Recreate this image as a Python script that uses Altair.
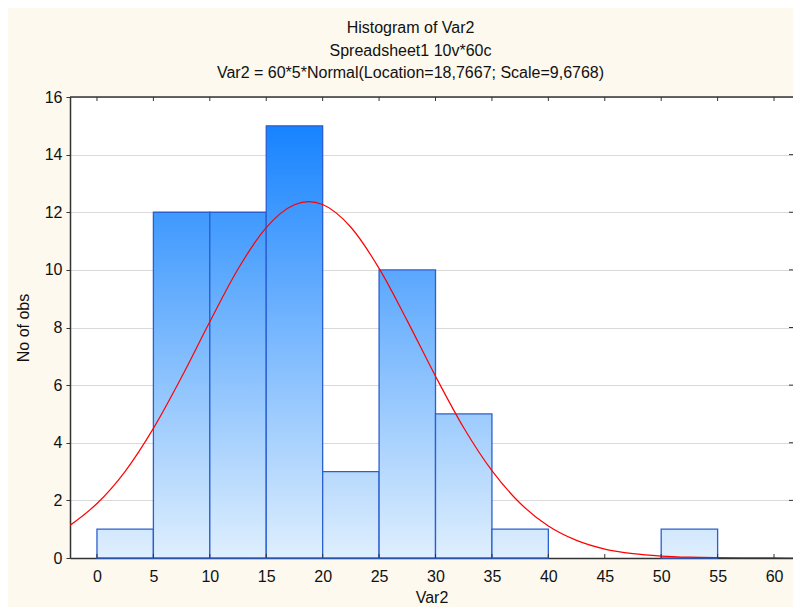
import altair as alt
import pandas as pd

# ---- data ----
bin_start = [0, 5, 10, 15, 20, 25, 30, 35, 40, 45, 50, 55]
bin_width = 5
counts = [1, 12, 12, 15, 3, 10, 5, 1, 0, 0, 1, 0]

curve_x = [-2.4, 0, 2.5, 5, 7.5, 10, 12.5, 15, 17.5, 18.77, 20, 22.5, 25, 27.5,
           30, 32.5, 35, 37.5, 40, 42.5, 45, 47.5, 50, 52.5, 55, 57.5, 60, 62.4]
curve_y = [1.13, 1.89, 3.01, 4.50, 6.28, 8.20, 10.03, 11.47, 12.26, 12.37, 12.27,
           11.48, 10.05, 8.23, 6.31, 4.52, 3.03, 1.90, 1.11, 0.61, 0.31, 0.15,
           0.068, 0.028, 0.011, 0.004, 0.001, 0.0]

x_ticks = [0, 5, 10, 15, 20, 25, 30, 35, 40, 45, 50, 55, 60]
y_ticks = [0, 2, 4, 6, 8, 10, 12, 14, 16]

title_lines = ["Histogram of Var2", "Spreadsheet1 10v*60c",
               "Var2 = 60*5*Normal(Location=18,7667; Scale=9,6768)"]

W, H = 723, 461
FONT = "Liberation Sans"
LIGHT = (0xDF, 0xEF, 0xFD)
DARK = (0x0A, 0x7C, 0xFF)
YMAX = 16


def mix(t):
    c = [round(LIGHT[i] + (DARK[i] - LIGHT[i]) * t) for i in range(3)]
    return "#%02x%02x%02x" % tuple(c)


xscale = alt.Scale(domain=[-2.39, 61.68], nice=False, zero=False)
yscale = alt.Scale(domain=[0, YMAX], nice=False)

xaxis = alt.Axis(values=x_ticks, ticks=False, grid=False, title="Var2",
                 labelFontSize=16, labelFont=FONT, labelColor="#111",
                 labelPadding=10, titleFontSize=16, titleFont=FONT,
                 titleFontWeight="normal", titleColor="#111", titlePadding=5,
                 domainColor="#333", domainWidth=1.5)
yaxis = alt.Axis(values=y_ticks, tickSize=4, tickColor="#333", grid=True,
                 gridColor="#d9d9d9", gridWidth=1, title="No of obs",
                 labelFontSize=16, labelFont=FONT, labelColor="#111",
                 labelPadding=4, titleFontSize=16, titleFont=FONT,
                 titleFontWeight="normal", titleColor="#111", titlePadding=13,
                 domainColor="#333", domainWidth=1.5)

layers = []

# axis / grid base layer
base_df = pd.DataFrame({"x": [0], "y": [0]})
layers.append(
    alt.Chart(base_df).mark_point(opacity=0).encode(
        x=alt.X("x:Q", scale=xscale, axis=xaxis),
        y=alt.Y("y:Q", scale=yscale, axis=yaxis),
    )
)

# bars, each with a gradient that follows absolute height
for s, c in zip(bin_start, counts):
    if c <= 0:
        continue
    df = pd.DataFrame({"x0": [s], "x1": [s + bin_width], "y0": [0], "y1": [c]})
    grad = alt.Gradient(
        gradient="linear", x1=0, x2=0, y1=0, y2=1,
        stops=[alt.GradientStop(color=mix(c / YMAX), offset=0),
               alt.GradientStop(color=mix(0), offset=1)],
    )
    layers.append(
        alt.Chart(df).mark_rect(fill=grad, stroke="#2a5fd2", strokeWidth=1.3).encode(
            x=alt.X("x0:Q", scale=xscale), x2="x1:Q",
            y=alt.Y("y0:Q", scale=yscale), y2="y1:Q",
        )
    )

# fitted normal curve
curve_df = pd.DataFrame({"x": curve_x, "y": curve_y})
layers.append(
    alt.Chart(curve_df).mark_line(color="#ff0000", strokeWidth=1.2,
                                  interpolate="monotone", clip=True).encode(
        x=alt.X("x:Q", scale=xscale), y=alt.Y("y:Q", scale=yscale)
    )
)

# top frame line
layers.append(
    alt.Chart(base_df).mark_rule(color="#333", strokeWidth=1.5).encode(
        x=alt.value(0), x2=alt.value(W), y=alt.value(0)
    )
)

# inward tick marks (top, bottom, right)
xt_df = pd.DataFrame({"v": x_ticks})
yt_df = pd.DataFrame({"v": y_ticks[1:-1]})
layers.append(
    alt.Chart(xt_df).mark_rule(color="#333", strokeWidth=1).encode(
        x=alt.X("v:Q", scale=xscale), y=alt.value(0), y2=alt.value(4)
    )
)
layers.append(
    alt.Chart(xt_df).mark_rule(color="#333", strokeWidth=1).encode(
        x=alt.X("v:Q", scale=xscale), y=alt.value(H - 4), y2=alt.value(H)
    )
)
layers.append(
    alt.Chart(yt_df).mark_rule(color="#333", strokeWidth=1).encode(
        y=alt.Y("v:Q", scale=yscale), x=alt.value(W - 4), x2=alt.value(W)
    )
)

chart = alt.layer(*layers).properties(
    width=W, height=H,
    background="#fdf9ee",
    autosize=alt.AutoSizeParams(type="none"),
    padding={"left": 62, "top": 89, "right": 0, "bottom": 49},
    title=alt.TitleParams(
        text=title_lines, fontSize=16, font=FONT, fontWeight="normal",
        color="#111", anchor="middle", lineHeight=22.5, offset=8, dx=-21,
    ),
).configure_view(fill="white", stroke=None)

chart.save("out.html", embed_options={"renderer": "svg", "actions": False})
